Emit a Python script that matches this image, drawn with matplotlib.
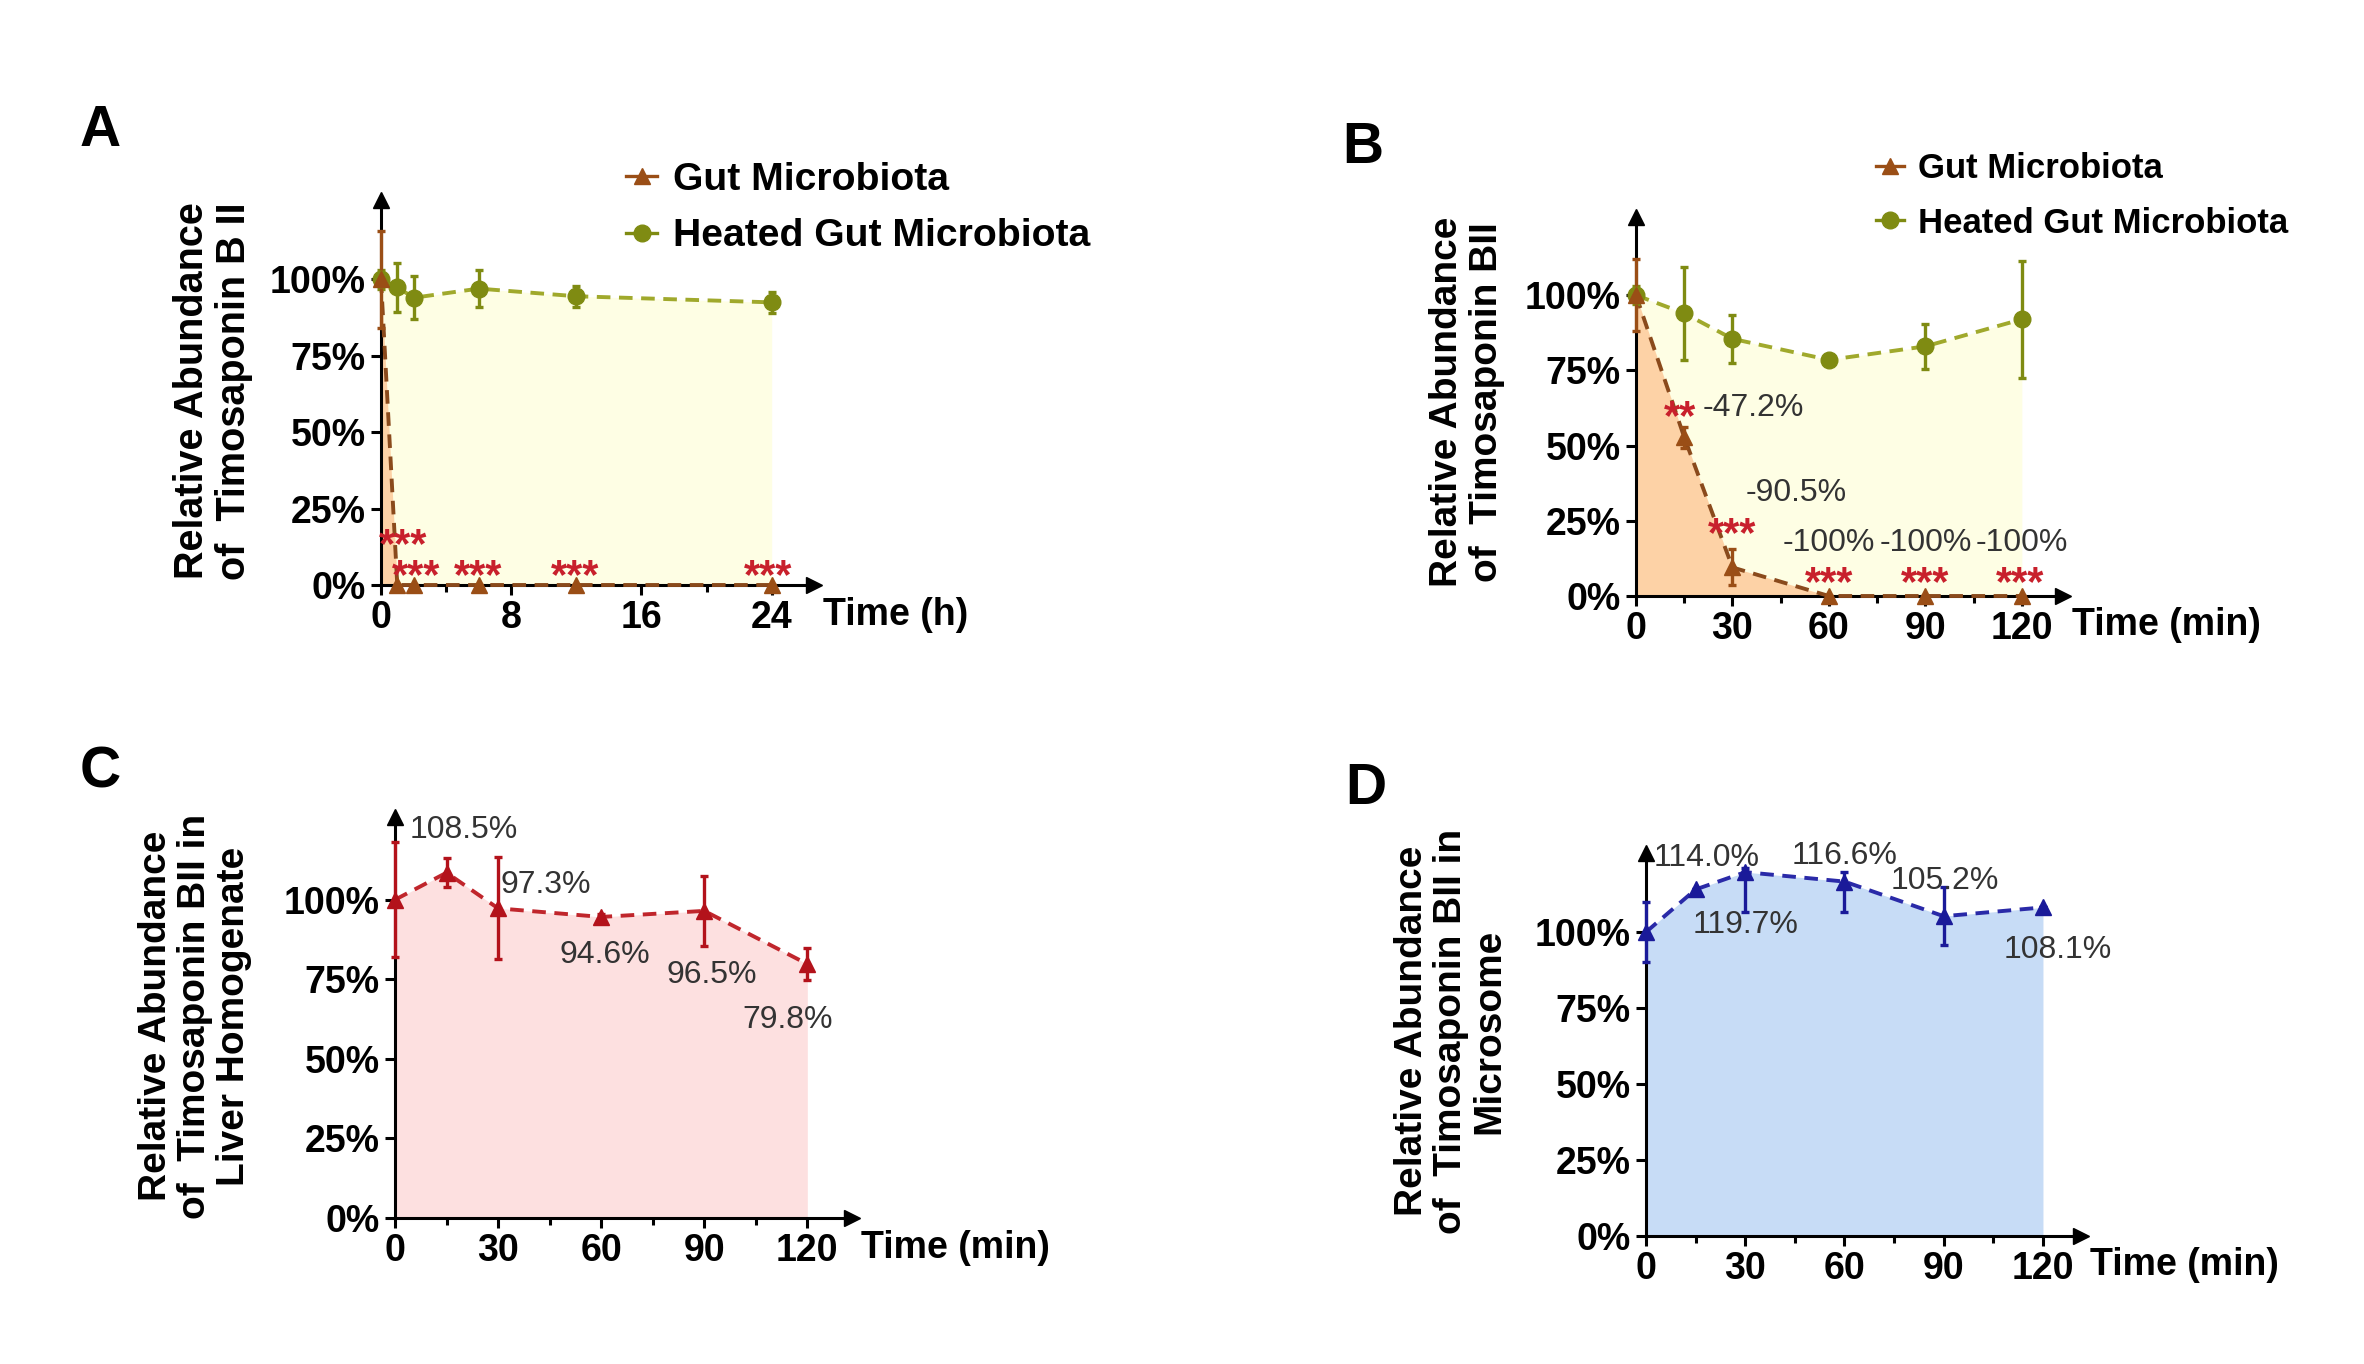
import matplotlib
matplotlib.use("Agg")
import matplotlib.pyplot as plt
from matplotlib.lines import Line2D

plt.rcParams['font.family'] = ['Liberation Sans', 'DejaVu Sans']
plt.rcParams['font.weight'] = 'bold'

# ---- data ----
# A: gut microbiota, hours
a_time = [0, 1, 2, 6, 12, 24]
a_gut = [100, 0, 0, 0, 0, 0]
a_gut_err = [16, 0, 0, 0, 0, 0]
a_heat = [100, 97.5, 94, 97, 94.5, 92.5]
a_heat_err = [3, 8, 7, 6, 3.5, 3.5]
a_stars = [(1.35, 17, '***'), (2.15, 7, '***'), (5.95, 7, '***'),
           (11.9, 7, '***'), (23.8, 7, '***')]

# B: gut microbiota, minutes
b_time = [0, 15, 30, 60, 90, 120]
b_gut = [100, 52.8, 9.5, 0, 0, 0]
b_gut_err = [12, 3.5, 6, 0, 0, 0]
b_heat = [100, 94, 85.5, 78.5, 83, 92]
b_heat_err = [3, 15.5, 8, 1.5, 7.5, 19.5]
b_stars = [(13.7, 63.5, '**'), (30, 24.5, '***'), (60, 8.5, '***'),
           (90, 8.5, '***'), (119.5, 8.5, '***')]
b_notes = [(20.8, 63.5, '-47.2%', 'left'), (34, 35.3, '-90.5%', 'left'),
           (60, 18.8, '-100%', 'center'), (90, 18.8, '-100%', 'center'),
           (120, 18.8, '-100%', 'center')]

# C: liver homogenate
c_time = [0, 15, 30, 60, 90, 120]
c_val = [100, 108.5, 97.3, 94.6, 96.5, 79.8]
c_err = [18, 4.5, 16, 1, 11, 5]
c_notes = [(4.4, 123, '108.5%'), (30.6, 105.6, '97.3%'), (48, 83.6, '94.6%'),
           (79, 77.4, '96.5%'), (101, 63.3, '79.8%')]

# D: microsome
d_time = [0, 15, 30, 60, 90, 120]
d_val = [100, 114.0, 119.7, 116.6, 105.2, 108.1]
d_err_lo = [10, 0, 13, 10, 9.5, 0]
d_err_hi = [10, 0, 1.5, 3.2, 9.5, 0]
d_notes = [(2.3, 125.4, '114.0%'), (14, 103.5, '119.7%'), (44, 126, '116.6%'),
           (74, 117.8, '105.2%'), (108, 95.3, '108.1%')]

y_ticks = [0, 25, 50, 75, 100]
y_ticklabels = ['0%', '25%', '50%', '75%', '100%']

GUT = '#9a4e16'
GUT_LINE = '#8a4a1c'
HEAT = '#7f8b12'
HEAT_LINE = '#a0a92c'
YELLOW = '#fefee4'
ORANGE = '#fdd2a6'
STAR = '#c8202c'
NOTE = '#333333'

W, H = 2364, 1364
fig = plt.figure(figsize=(W / 100, H / 100), dpi=100)


def make_axes(x0, x1, y_top, y_bottom):
    return fig.add_axes([x0 / W, 1 - y_bottom / H, (x1 - x0) / W, (y_bottom - y_top) / H])


def style_axes(ax, xmax, xticks, xminor, xlabel):
    ax.set_xlim(0, xmax)
    ax.set_ylim(0, 126)
    ax.patch.set_alpha(0)
    for s in ['top', 'right']:
        ax.spines[s].set_visible(False)
    for s in ['left', 'bottom']:
        ax.spines[s].set_linewidth(2.2)
    ax.set_xticks(xticks)
    ax.set_xticks(xminor, minor=True)
    ax.set_yticks(y_ticks)
    ax.set_yticklabels(y_ticklabels)
    ax.tick_params(which='major', length=7, width=2.2, labelsize=27, pad=4)
    ax.tick_params(which='minor', length=5, width=2.2)
    ax.plot(1, 0, '>', color='k', ms=11, transform=ax.transAxes, clip_on=False)
    ax.plot(0, 1, '^', color='k', ms=11, transform=ax.transAxes, clip_on=False)
    ax.text(1.02, -0.03, xlabel, transform=ax.transAxes, ha='left', va='top',
            fontsize=27)


def series(ax, x, y, err, color, line_color, marker, ms):
    ax.plot(x, y, color=line_color, lw=2.8, dashes=(3.5, 2.2), zorder=3, clip_on=False)
    ax.errorbar(x, y, yerr=err, fmt=marker, color=color, ms=ms, elinewidth=2.4,
                capsize=3, capthick=2.4, zorder=4, clip_on=False)


def note(ax, x, y, s, fs, color, ha='left', weight='normal', k=0.36):
    ax.annotate(s, (x, y), xytext=(0, -k * fs), textcoords='offset points',
                ha=ha, va='baseline', fontsize=fs, color=color,
                fontweight=weight, annotation_clip=False, zorder=5)


def legend(ax, x, y, fs, spacing):
    handles = [Line2D([], [], color=GUT, marker='^', ms=12, lw=2.4),
               Line2D([], [], color=HEAT, marker='o', ms=12, lw=2.4)]
    ax.legend(handles, ['Gut Microbiota', 'Heated Gut Microbiota'],
              loc='upper left', bbox_to_anchor=(x / W, 1 - y / H),
              bbox_transform=fig.transFigure, frameon=False, fontsize=fs,
              handlelength=0.8, handletextpad=0.4, borderpad=0,
              borderaxespad=0, labelspacing=spacing)


# ---- A ----
axA = make_axes(381, 814, 200, 585)
axA.fill_between(a_time, a_heat, 0, color=YELLOW, lw=0, zorder=1)
axA.fill_between(a_time, a_gut, 0, color=ORANGE, lw=0, zorder=2)
series(axA, a_time, a_heat, a_heat_err, HEAT, HEAT_LINE, 'o', 12)
series(axA, a_time, a_gut, a_gut_err, GUT, GUT_LINE, '^', 12)
style_axes(axA, 26.6, [0, 8, 16, 24], [4, 12, 20], 'Time (h)')
for x, y, s in a_stars:
    note(axA, x, y, s, 30, STAR, ha='center', weight='bold', k=0.58)
legend(axA, 626, 162, 28.2, 0.52)
fig.text(213 / W, 1 - 391 / H, 'Relative Abundance\nof  Timosaponin B II',
         rotation=90, ha='center', va='center', fontsize=28.5, linespacing=1.15)

# ---- B ----
axB = make_axes(1636, 2063, 217, 596)
axB.fill_between(b_time, b_heat, 0, color=YELLOW, lw=0, zorder=1)
axB.fill_between(b_time, b_gut, 0, color=ORANGE, lw=0, zorder=2)
series(axB, b_time, b_heat, b_heat_err, HEAT, HEAT_LINE, 'o', 12)
series(axB, b_time, b_gut, b_gut_err, GUT, GUT_LINE, '^', 12)
style_axes(axB, 132.8, [0, 30, 60, 90, 120], [15, 45, 75, 105], 'Time (min)')
for x, y, s in b_stars:
    note(axB, x, y, s, 30, STAR, ha='center', weight='bold', k=0.58)
for x, y, s, ha in b_notes:
    note(axB, x, y, s, 23, NOTE, ha=ha)
legend(axB, 1876, 152, 25, 0.62)
fig.text(1467 / W, 1 - 402 / H, 'Relative Abundance\nof  Timosaponin BII',
         rotation=90, ha='center', va='center', fontsize=28, linespacing=1.15)

# ---- C ----
axC = make_axes(395, 852, 817, 1218)
axC.fill_between(c_time, c_val, 0, color='#fde0e0', lw=0, zorder=1)
series(axC, c_time, c_val, c_err, '#b3121b', '#c0262c', '^', 12)
style_axes(axC, 133, [0, 30, 60, 90, 120], [15, 45, 75, 105], 'Time (min)')
for x, y, s in c_notes:
    note(axC, x, y, s, 23, NOTE)
fig.text(195 / W, 1 - 1016 / H,
         'Relative Abundance\nof  Timosaponin BII in\nLiver Homogenate',
         rotation=90, ha='center', va='center', fontsize=28, linespacing=1.1)

# ---- D ----
axD = make_axes(1646, 2081, 853, 1236)
axD.fill_between(d_time, d_val, 0, color='#c7dcf6', lw=0, zorder=1)
series(axD, d_time, d_val, [d_err_lo, d_err_hi], '#1a1a99', '#2a2aa8', '^', 12)
style_axes(axD, 131.5, [0, 30, 60, 90, 120], [15, 45, 75, 105], 'Time (min)')
for x, y, s in d_notes:
    note(axD, x, y, s, 23, NOTE)
fig.text(1451 / W, 1 - 1031 / H,
         'Relative Abundance\nof  Timosaponin BII in\nMicrosome',
         rotation=90, ha='center', va='center', fontsize=28, linespacing=1.1)

# panel letters
for x, y, s in [(80, 146, 'A'), (1342, 163, 'B'), (80, 787, 'C'), (1345, 804, 'D')]:
    fig.text(x / W, 1 - y / H, s, fontsize=41, fontweight='bold', va='baseline')

fig.savefig('out.png', dpi=100)
